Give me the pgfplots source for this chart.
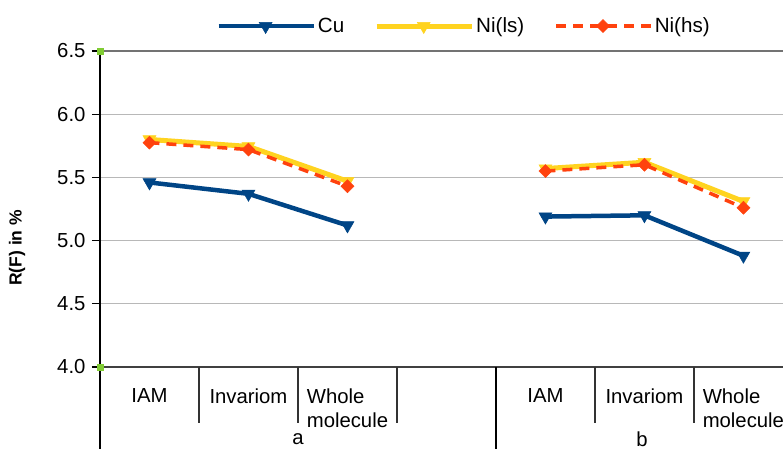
\documentclass[border=0pt]{standalone}
\usepackage{fontspec}
\setmainfont{Liberation Sans}
\usepackage{pgfplots}
\pgfplotsset{compat=1.18}
\definecolor{cublue}{HTML}{004586}
\definecolor{niyellow}{HTML}{FFD320}
\definecolor{nired}{HTML}{FF420E}
\definecolor{grn}{HTML}{80CC33}
\newcommand\fs{\fontsize{20.3}{24}\selectfont}
\newcommand\lfs{\fontsize{20.6}{24}\selectfont}
\begin{document}
\begin{tikzpicture}[x=1pt,y=1pt]
\useasboundingbox (-100,-82) rectangle (683,367);
\clip (-100,-82) rectangle (683,367);
\begin{axis}[
  at={(0,0)}, anchor=south west,
  scale only axis, width=683pt, height=316pt,
  xmin=0, xmax=6.9, ymin=4, ymax=6.5,
  clip=false,
  unbounded coords=jump,
  axis x line*=bottom, axis y line*=left,
  x axis line style={black!75, line width=1.2pt, -},
  y axis line style={black, line width=1.2pt, -},
  xtick={0.5,1.5,2.5,4.5,5.5,6.5},
  xticklabels={IAM,Invariom,{Whole\\molecule},IAM,Invariom,{Whole\\molecule}},
  xtick style={draw=none},
  xticklabel style={font=\fs, align=left, anchor=north, yshift=-10pt},
  ytick={4,4.5,5,5.5,6,6.5},
  ytick style={black, line width=1.2pt},
  tick align=outside, major tick length=8pt,
  yticklabel style={font=\fs, xshift=-3pt, /pgf/number format/.cd, fixed, fixed zerofill, precision=1},
  /pgf/number format/assume math mode=true,
  ymajorgrids, grid style={black!28, line width=1pt},
  ylabel={\bfseries R(F) in \%},
  every axis y label/.style={at={(rel axis cs:0,0.377)}, xshift=-83pt, rotate=90, anchor=center, font=\fontsize{17.5}{20}\selectfont},
  legend columns=3,
  legend style={at={(rel axis cs:0.533,1.079)}, anchor=center, draw=none, fill=none, font=\lfs,
    /tikz/every even column/.append style={column sep=28pt}},
  legend image code/.code={\draw[mark repeat=2,mark phase=2,#1] plot coordinates {(0pt,0pt) (47pt,0pt) (95pt,0pt)};},
]
\draw[black!55, line width=1.3pt] (rel axis cs:0,1) -- (rel axis cs:1,1);
\pgfplotsinvokeforeach{1,2,3,5,6}{
  \draw[black!80, line width=1.2pt] (axis cs:#1,4) -- ([yshift=-56pt]axis cs:#1,4);
}
\draw[black, line width=1.2pt] (axis cs:0,4) -- ([yshift=-82pt]axis cs:0,4);
\draw[black, line width=1.2pt] (axis cs:4,4) -- ([yshift=-82pt]axis cs:4,4);
\node[font=\fs] at ([yshift=-72pt]axis cs:2,4) {a};
\node[font=\fs] at ([yshift=-72pt]axis cs:5.475,4) {b};

\addplot[cublue, line width=4.5pt, mark=triangle*, mark size=7.5pt, mark options={solid, rotate=180, fill=cublue, line width=0.5pt}]
  coordinates {(0.5,5.46) (1.5,5.37) (2.5,5.12) (3.5,nan) (4.5,5.19) (5.5,5.20) (6.5,4.88)};
\addlegendentry{Cu}
\addplot[niyellow, line width=5pt, mark=triangle*, mark size=7.5pt, mark options={solid, rotate=180, fill=niyellow, line width=0.5pt}]
  coordinates {(0.5,5.80) (1.5,5.745) (2.5,5.47) (3.5,nan) (4.5,5.57) (5.5,5.62) (6.5,5.31)};
\addlegendentry{Ni(ls)}
\addplot[nired, line width=3.5pt, dash pattern=on 10pt off 7pt, mark=square*, mark size=4.6pt, mark options={solid, rotate=45, fill=nired, line width=0.5pt}]
  coordinates {(0.5,5.775) (1.5,5.72) (2.5,5.43) (3.5,nan) (4.5,5.55) (5.5,5.60) (6.5,5.26)};
\addlegendentry{Ni(hs)}
\addplot[only marks, mark=square*, mark size=3pt, color=grn, forget plot] coordinates {(0,6.5) (0,4)};
\end{axis}
\end{tikzpicture}
\end{document}
